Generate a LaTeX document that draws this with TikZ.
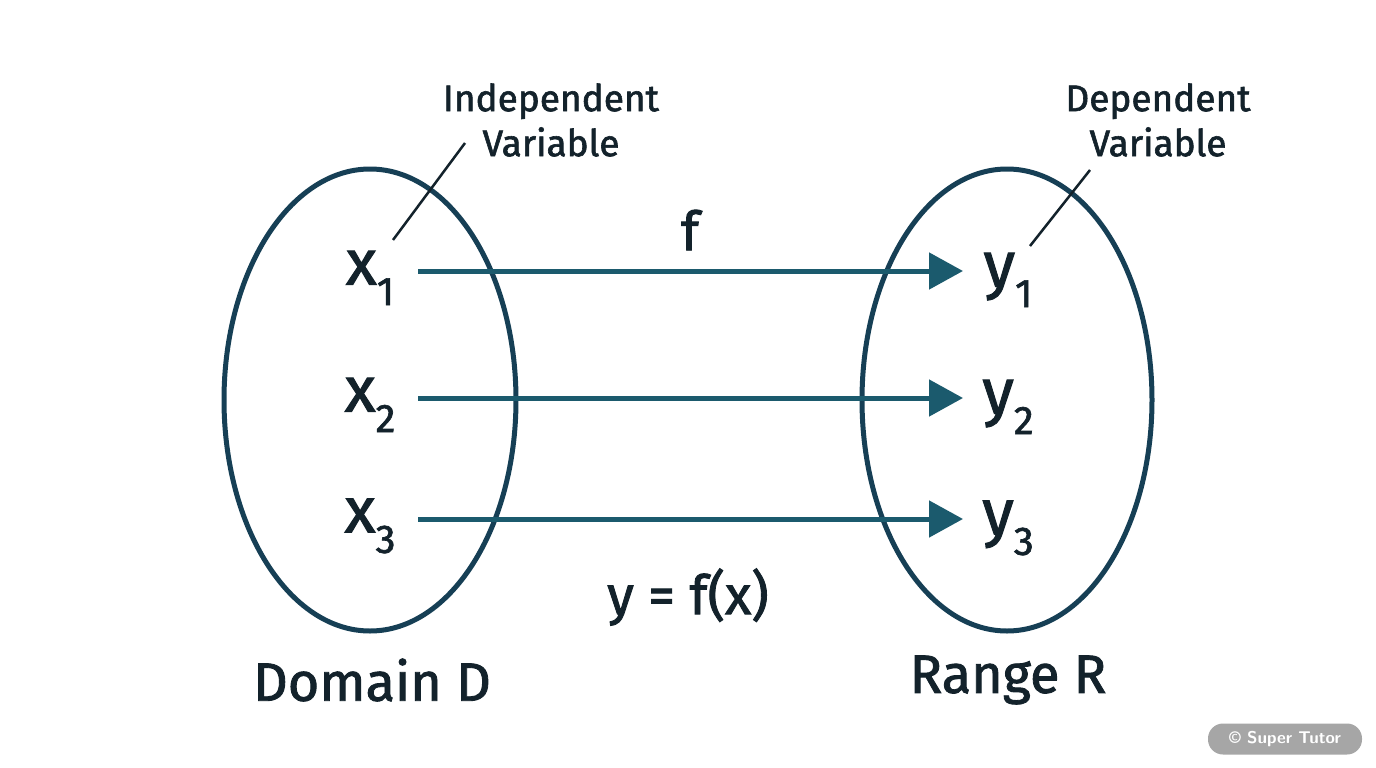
\documentclass[tikz,border=0pt]{standalone}
\usepackage{fontspec}
\setmainfont{Fira Sans}[UprightFeatures={FakeBold=1.6}]
\usetikzlibrary{arrows.meta,shapes.geometric}
\definecolor{ring}{HTML}{163F55}
\definecolor{arr}{HTML}{1B5A6D}
\definecolor{txt}{HTML}{13222B}
\newcommand{\sbs}[1]{\raisebox{-0.32em}{\fontsize{40}{40}\selectfont #1}}
\begin{document}
\begin{tikzpicture}[x=1pt,y=-1pt,
  ell/.style={draw=ring,line width=5pt},
  var/.style={text=txt,font=\fontsize{64}{66}\selectfont,inner sep=0},
  lab/.style={text=txt,font=\fontsize{37}{45}\selectfont,align=center,inner sep=0},
  big/.style={text=txt,font=\fontsize{54}{60}\selectfont,inner sep=0},
  map/.style={draw=arr,line width=5pt,-{Triangle[length=34pt,width=36pt]}},
  lead/.style={draw=txt,line width=2.5pt}]
\fill[white] (0,0) rectangle (1376,768);
\useasboundingbox (0,0) rectangle (1376,768);
\node[ell,ellipse,minimum width=292pt,minimum height=462pt] (D) at (370,400) {};
\node[ell,ellipse,minimum width=290pt,minimum height=462pt] (R) at (1007,400) {};
\node[var] (x1) at (370,278) {x\sbs{1}};
\node[var] (x2) at (370,405) {x\sbs{2}};
\node[var] (x3) at (370,526) {x\sbs{3}};
\node[var] (y1) at (1008,280) {y\sbs{1}};
\node[var] (y2) at (1008,407) {y\sbs{2}};
\node[var] (y3) at (1008,528) {y\sbs{3}};
\coordinate (a1) at (418,271); \coordinate (b1) at (963,271);
\coordinate (a2) at (418,398); \coordinate (b2) at (963,398);
\coordinate (a3) at (418,519); \coordinate (b3) at (963,519);
\draw[map] (a1) -- (b1);
\draw[map] (a2) -- (b2);
\draw[map] (a3) -- (b3);
\node[big] (f) at (690,230) {f};
\node[big] (eq) at (688,597) {y = f(x)};
\node[lab] (iv) at (551,120) {Independent\\Variable};
\node[lab] (dv) at (1158,120) {Dependent\\Variable};
\coordinate (l1) at (393,240); \coordinate (l2) at (465,143);
\coordinate (r1) at (1030,246); \coordinate (r2) at (1090,170);
\draw[lead] (l1) -- (l2);
\draw[lead] (r1) -- (r2);
\node[big] (dd) at (372,680) {Domain D};
\node[big] (rr) at (1008,680) {Range R};
\node[fill=black!35,rounded corners=15pt,minimum width=154pt,minimum height=31pt,text=white,font=\sffamily\bfseries\fontsize{17}{20}\selectfont] (wm) at (1285,739) {© Super Tutor};
\end{tikzpicture}
\end{document}
